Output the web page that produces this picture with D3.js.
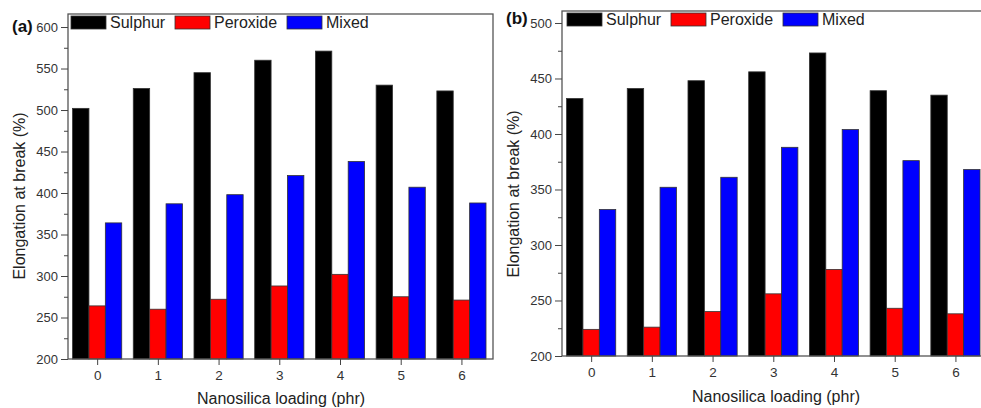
<!DOCTYPE html>
<html>
<head>
<meta charset="utf-8">
<script src="https://cdn.jsdelivr.net/npm/d3@7"></script>
<style>
  body { margin: 0; background: #fff; }
  svg { display: block; font-family: "Liberation Sans", Arial, sans-serif; }
</style>
</head>
<body>
<svg id="chart" width="981" height="408"></svg>
<script>
const loadings = [0, 1, 2, 3, 4, 5, 6];
const seriesNames = ['Sulphur', 'Peroxide', 'Mixed'];
const seriesColors = ['#000000', '#ff0000', '#0000ff'];

// panel (a)
const sulphurA = [502, 526, 545, 560, 571, 530, 523];
const peroxideA = [264, 260, 272, 288, 302, 275, 271];
const mixedA = [364, 387, 398, 421, 438, 407, 388];
const ticksA = [200, 250, 300, 350, 400, 450, 500, 550, 600];

// panel (b)
const sulphurB = [432, 441, 448, 456, 473, 439, 435];
const peroxideB = [224, 226, 240, 256, 278, 243, 238];
const mixedB = [332, 352, 361, 388, 404, 376, 368];
const ticksB = [200, 250, 300, 350, 400, 450, 500];

const svg = d3.select('#chart');

function drawPanel(opt) {
  const x = d3.scaleLinear().domain([-0.48, 6.52]).range([opt.left, opt.right]);
  const y = d3.scaleLinear().domain([200, opt.yMax]).range([opt.bottom, opt.top]);
  const g = svg.append('g');
  const bw = 0.27;
  const series = opt.series;

  series.forEach((vals, si) => {
    g.selectAll(null)
      .data(vals)
      .enter()
      .append('rect')
      .attr('x', (d, i) => x(loadings[i] + (si - 1.5) * bw))
      .attr('width', x(bw) - x(0))
      .attr('y', d => y(d))
      .attr('height', d => y(200) - y(d))
      .attr('fill', seriesColors[si])
      .attr('stroke', '#333')
      .attr('stroke-width', 0.8);
  });

  // frame
  g.append('rect')
    .attr('x', opt.left).attr('y', opt.top)
    .attr('width', opt.right - opt.left).attr('height', opt.bottom - opt.top)
    .attr('fill', 'none').attr('stroke', '#555').attr('stroke-width', 1.3);

  // y axis, minor then major ticks
  const minor = d3.range(225, opt.yMax, 50);
  g.append('g')
    .attr('transform', `translate(${opt.left},0)`)
    .call(d3.axisLeft(y).tickValues(minor).tickSize(4).tickFormat(''))
    .call(a => a.select('.domain').remove())
    .call(a => a.selectAll('line').attr('stroke', '#444'));
  g.append('g')
    .attr('transform', `translate(${opt.left},0)`)
    .call(d3.axisLeft(y).tickValues(opt.ticks).tickSize(7).tickPadding(3))
    .call(a => a.select('.domain').remove())
    .call(a => a.selectAll('line').attr('stroke', '#444'))
    .call(a => a.selectAll('text').attr('font-size', 13).attr('fill', '#333')
      .attr('font-family', '"Liberation Sans", Arial, sans-serif'));

  // x axis
  g.append('g')
    .attr('transform', `translate(0,${opt.bottom})`)
    .call(d3.axisBottom(x).tickValues(loadings).tickSize(6).tickPadding(5).tickFormat(d3.format('d')))
    .call(a => a.select('.domain').remove())
    .call(a => a.selectAll('line').attr('stroke', '#444'))
    .call(a => a.selectAll('text').attr('font-size', 13.5).attr('fill', '#333')
      .attr('font-family', '"Liberation Sans", Arial, sans-serif'));

  // titles
  g.append('text')
    .attr('x', opt.xTitleX).attr('y', opt.xTitleY)
    .attr('text-anchor', 'middle').attr('font-size', 16).attr('fill', '#222')
    .text('Nanosilica loading (phr)');
  g.append('text')
    .attr('transform', `translate(${opt.yTitleX},${opt.yTitleY}) rotate(-90)`)
    .attr('text-anchor', 'middle').attr('font-size', 16).attr('fill', '#222')
    .text('Elongation at break (%)');
  g.append('text')
    .attr('x', opt.tagX).attr('y', opt.tagY)
    .attr('font-size', 17).attr('font-weight', 'bold').attr('fill', '#111')
    .text(opt.tag);

  // legend
  const lg = g.append('g').attr('transform', `translate(${opt.legX},${opt.legY})`);
  const offs = [0, 104, 216];
  seriesNames.forEach((name, i) => {
    lg.append('rect')
      .attr('x', offs[i]).attr('y', 0).attr('width', 35).attr('height', 13)
      .attr('fill', seriesColors[i]).attr('stroke', '#333').attr('stroke-width', 0.8);
    lg.append('text')
      .attr('x', offs[i] + 39).attr('y', 12)
      .attr('font-size', 16).attr('fill', '#222')
      .text(name);
  });
}

drawPanel({
  series: [sulphurA, peroxideA, mixedA], ticks: ticksA,
  left: 68, right: 493, top: 14, bottom: 359, yMax: 615.7,
  xTitleX: 281, xTitleY: 404, yTitleX: 25, yTitleY: 196,
  tag: '(a)', tagX: 12, tagY: 32, legX: 71, legY: 16
});

drawPanel({
  series: [sulphurB, peroxideB, mixedB], ticks: ticksB,
  left: 562, right: 987, top: 11, bottom: 356, yMax: 510.8,
  xTitleX: 776, xTitleY: 402, yTitleX: 519, yTitleY: 194,
  tag: '(b)', tagX: 506, tagY: 24, legX: 567, legY: 13
});
</script>
</body>
</html>
